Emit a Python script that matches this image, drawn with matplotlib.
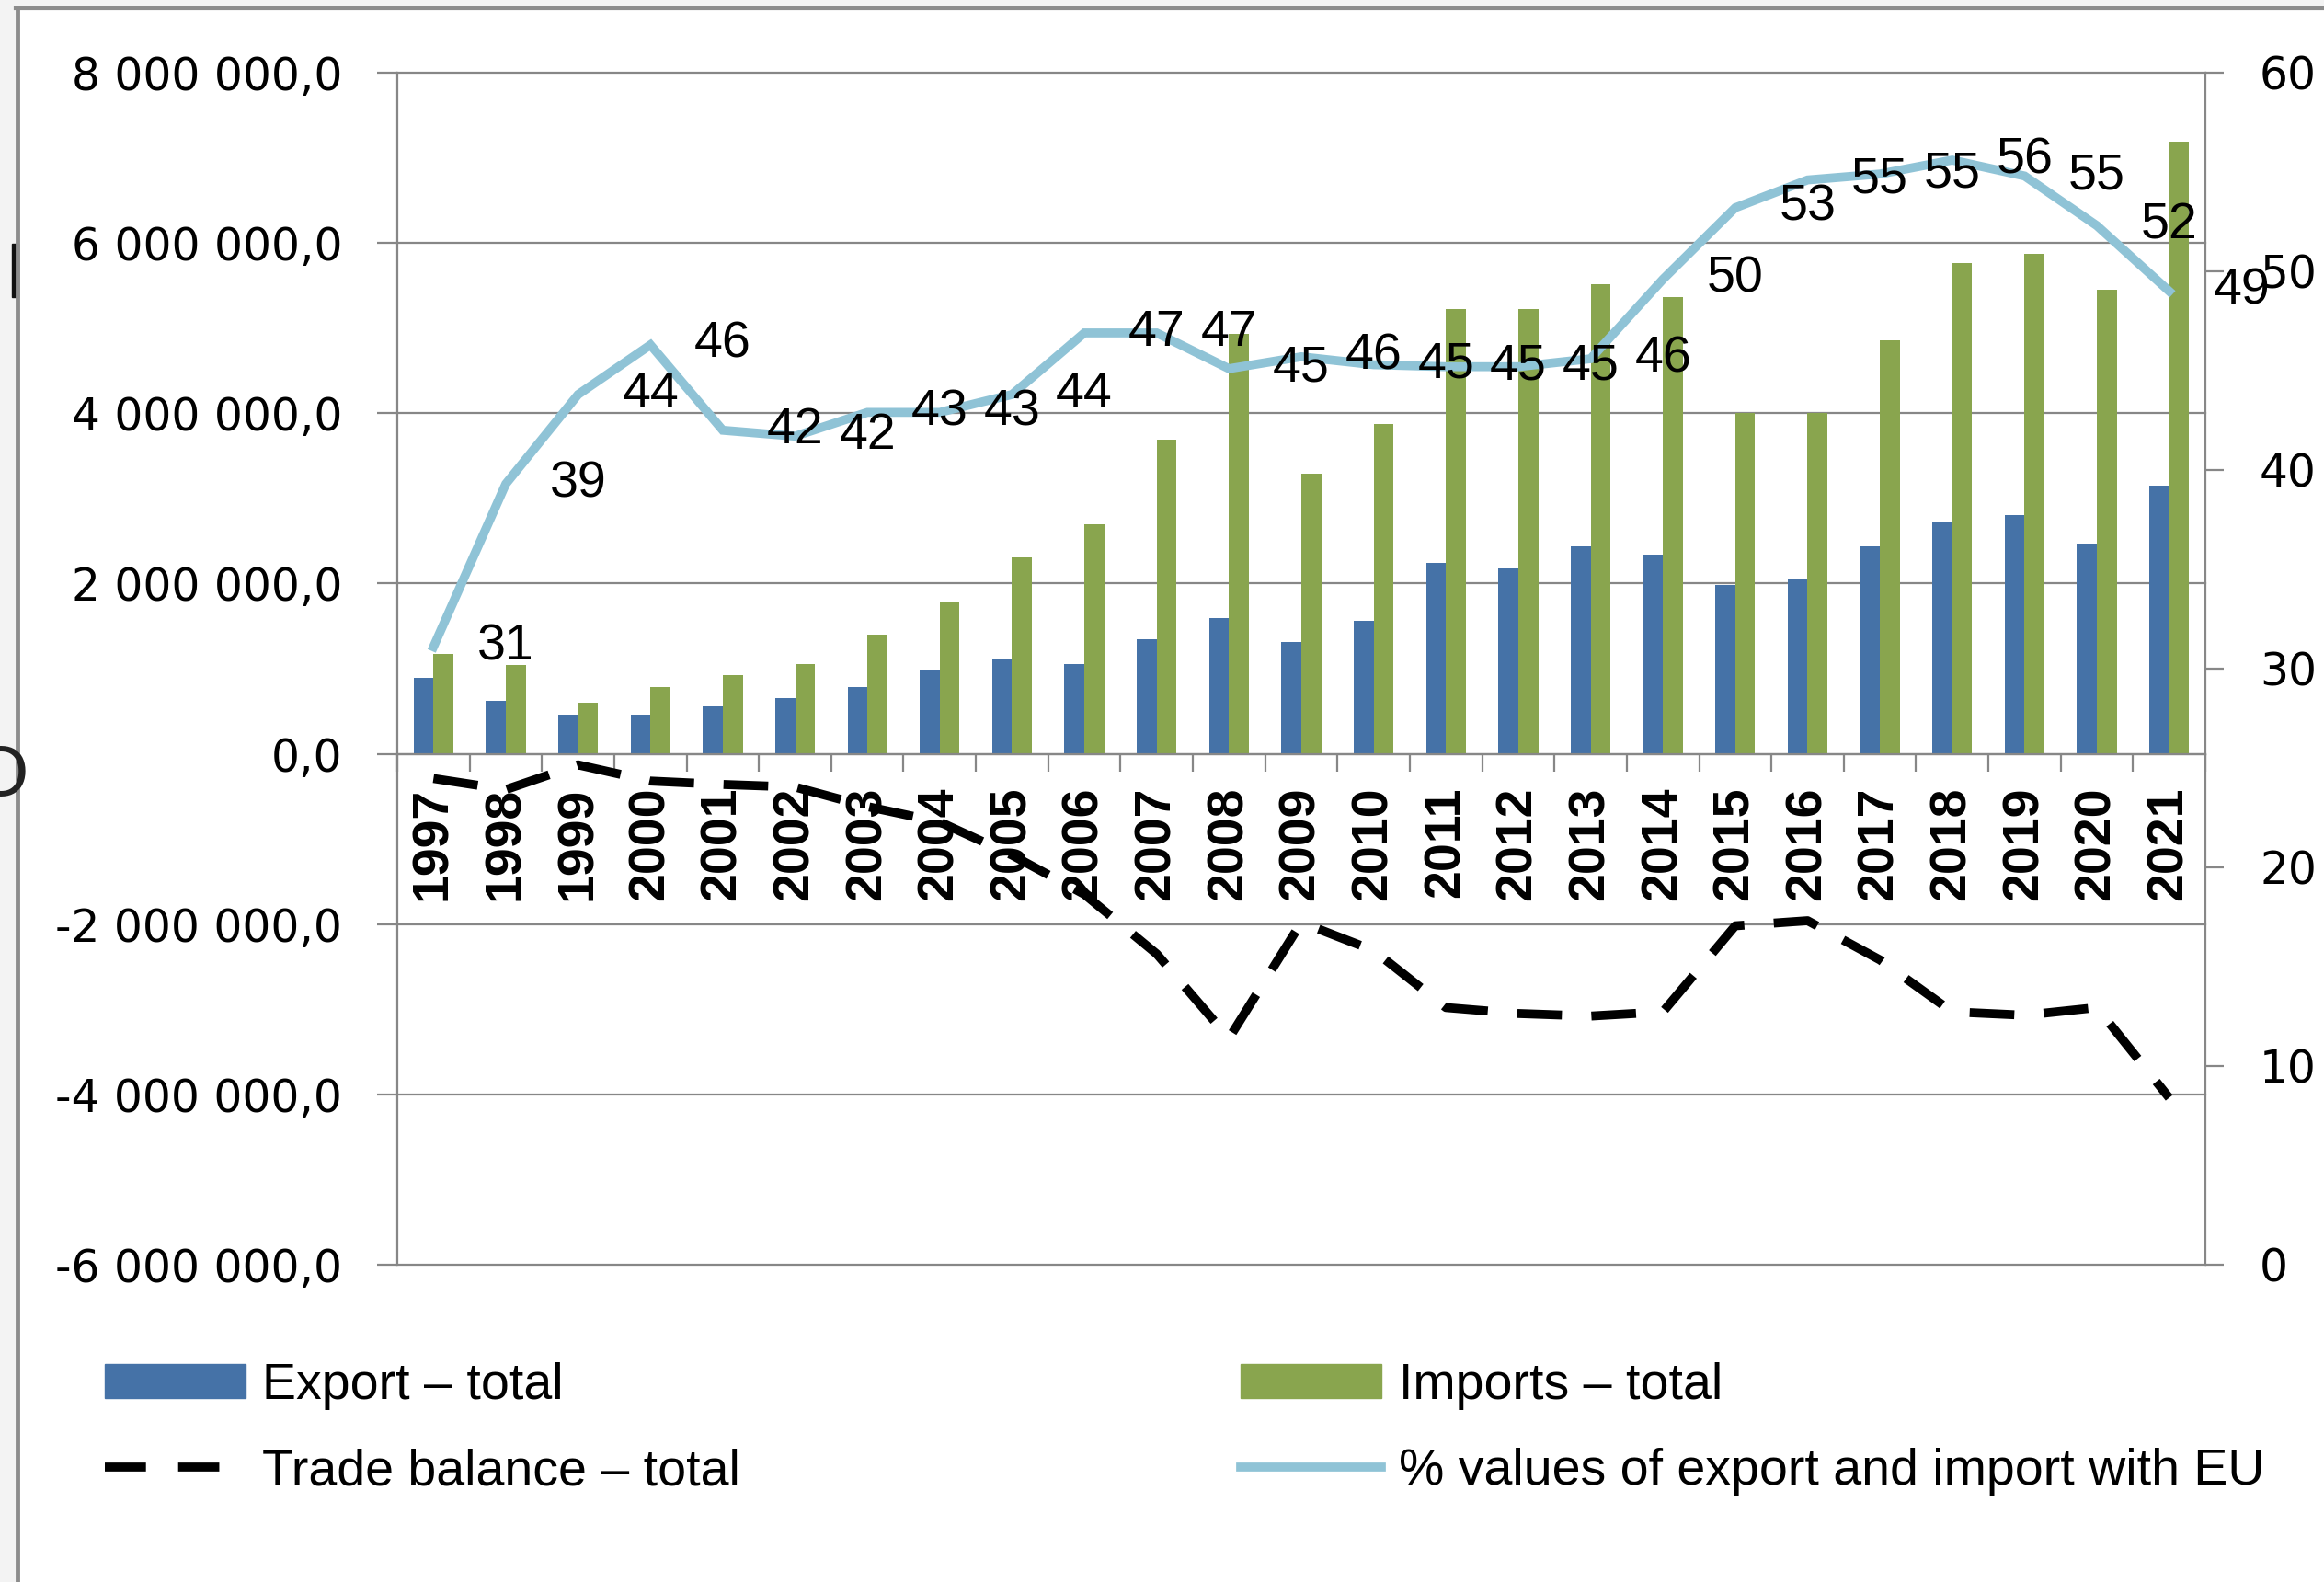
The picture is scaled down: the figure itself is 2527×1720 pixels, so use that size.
import matplotlib.pyplot as plt
from matplotlib.patches import Rectangle, Patch
from matplotlib.lines import Line2D
from matplotlib.ticker import FuncFormatter, MultipleLocator

# Data
years = ['1997', '1998', '1999', '2000', '2001', '2002', '2003', '2004', '2005',
         '2006', '2007', '2008', '2009', '2010', '2011', '2012', '2013', '2014',
         '2015', '2016', '2017', '2018', '2019', '2020', '2021']
export_total = [890000, 627000, 465000, 465000, 562000, 659000, 789000, 984000,
                1114000, 1049000, 1341000, 1589000, 1308000, 1557000, 2238000,
                2173000, 2440000, 2335000, 1978000, 2043000, 2440000, 2730000,
                2800000, 2470000, 3150000]
imports_total = [1178000, 1045000, 595000, 789000, 919000, 1049000, 1405000,
                 1784000, 2303000, 2700000, 3690000, 4930000, 3290000, 3870000,
                 5220000, 5220000, 5520000, 5360000, 4000000, 4000000, 4860000,
                 5760000, 5870000, 5450000, 7190000]
trade_balance = [-290000, -420000, -130000, -320000, -360000, -390000, -620000,
                 -800000, -1190000, -1650000, -2350000, -3340000, -1980000,
                 -2310000, -2980000, -3050000, -3080000, -3030000, -2020000,
                 -1960000, -2420000, -3030000, -3070000, -2980000, -4040000]
eu_share = [31.1, 39.3, 43.8, 46.3, 42.0, 41.7, 42.9, 42.9, 43.8, 46.9, 46.9,
            45.1, 45.7, 45.3, 45.2, 45.2, 45.6, 49.6, 53.2, 54.6, 54.9, 55.6,
            54.8, 52.3, 49.0]

blue = '#4572A7'
green = '#89A54E'
light_blue = '#8FC3D6'
grey = '#878787'
label_font = ['Liberation Sans', 'DejaVu Sans']

W, H = 2527, 1720
fig = plt.figure(figsize=(W / 100, H / 100), dpi=100)

# screenshot frame: light strip + grey border on the left and top
fig.add_artist(Rectangle((0, 0), 17 / W, 1, transform=fig.transFigure,
                         color='#f3f3f3', zorder=0))
fig.add_artist(Rectangle((0, 1 - 8 / H), 1, 8 / H, transform=fig.transFigure,
                         color='#f3f3f3', zorder=0))
fig.add_artist(Line2D([19 / W, 19 / W], [0, 1 - 8 / H], transform=fig.transFigure,
                      color='#8c8c8c', lw=3.5))
fig.add_artist(Line2D([17 / W, 1], [1 - 9 / H, 1 - 9 / H], transform=fig.transFigure,
                      color='#8c8c8c', lw=3))
fig.add_artist(Rectangle((13 / W, 1 - 323 / H), 7 / W, 58 / H,
                         transform=fig.transFigure, color='#111111'))
fig.text(1 / W, 1 - 845 / H, 'O', fontsize=56, ha='center', va='center',
         family=label_font, color='#222222')

ax = fig.add_axes([432 / W, 345 / H, (2398 - 432) / W, (1375 - 79) / H])
x = list(range(len(years)))
bw = 0.275

ax.bar([i - bw / 2 for i in x], export_total, width=bw, color=blue, zorder=2)
ax.bar([i + bw / 2 for i in x], imports_total, width=bw, color=green, zorder=2)
ax.plot(x, trade_balance, color='black', lw=7, dashes=(5, 3.3),
        dash_capstyle='butt', zorder=5)

ax.set_xlim(-0.5, len(years) - 0.5)
ax.set_ylim(-6000000, 8000000)
ax.yaxis.set_major_locator(MultipleLocator(2000000))
ax.yaxis.set_major_formatter(FuncFormatter(
    lambda v, p: f"{v:,.1f}".replace(',', ' ').replace('.', ',')))
ax.set_axisbelow(True)
ax.yaxis.grid(True, color=grey, lw=1.6)
for gl in ax.get_ygridlines():
    gl.set_clip_on(False)

ax.spines['bottom'].set_position(('data', 0))
ax.spines['bottom'].set_color(grey)
ax.spines['bottom'].set_linewidth(1.6)
ax.spines['left'].set_color(grey)
ax.spines['left'].set_linewidth(1.6)
ax.spines['top'].set_visible(False)
ax.spines['right'].set_visible(False)

ax.set_xticks([i - 0.5 for i in range(len(years) + 1)])
ax.set_xticklabels([])
ax.set_xticks(x, minor=True)
ax.set_xticklabels(years, minor=True, rotation=90, fontsize=40,
                   fontweight='bold', family=label_font, va='top')
ax.tick_params(axis='x', which='major', direction='out', length=14, width=1.6,
               color=grey)
ax.tick_params(axis='x', which='minor', length=0, pad=26)
ax.tick_params(axis='y', direction='out', length=16, width=1.6, color=grey,
               labelsize=35, pad=27)

ax2 = ax.twinx()
ax2.plot(x, eu_share, color=light_blue, lw=7, solid_joinstyle='miter', zorder=3)
for i, v in enumerate(eu_share):
    ax2.text(i + 1, v, f"{v:.0f}", fontsize=40, family=label_font,
             ha='center', va='center', zorder=6)
ax2.set_ylim(0, 60)
ax2.yaxis.set_major_locator(MultipleLocator(10))
for s in ['top', 'bottom', 'left']:
    ax2.spines[s].set_visible(False)
ax2.spines['right'].set_color(grey)
ax2.spines['right'].set_linewidth(1.6)
ax2.tick_params(axis='y', direction='out', length=14.5, width=1.6, color=grey,
                labelsize=35, pad=28)

handles = [Patch(color=blue),
           Line2D([], [], color='black', lw=7, dashes=(4.6, 3.6)),
           Patch(color=green),
           Line2D([], [], color=light_blue, lw=7)]
labels = ['Export – total', 'Trade balance – total', 'Imports – total',
          '% values of export and import with EU']
fig.legend(handles, labels, loc='upper left', bbox_to_anchor=(114 / W, 1 - 1481 / H),
           ncol=2, frameon=False, borderpad=0, borderaxespad=0,
           handlelength=2.75, handleheight=0.65, handletextpad=0.33,
           columnspacing=9.8, labelspacing=0.74,
           prop={'family': label_font, 'size': 40})

fig.savefig('out.png', dpi=100)
